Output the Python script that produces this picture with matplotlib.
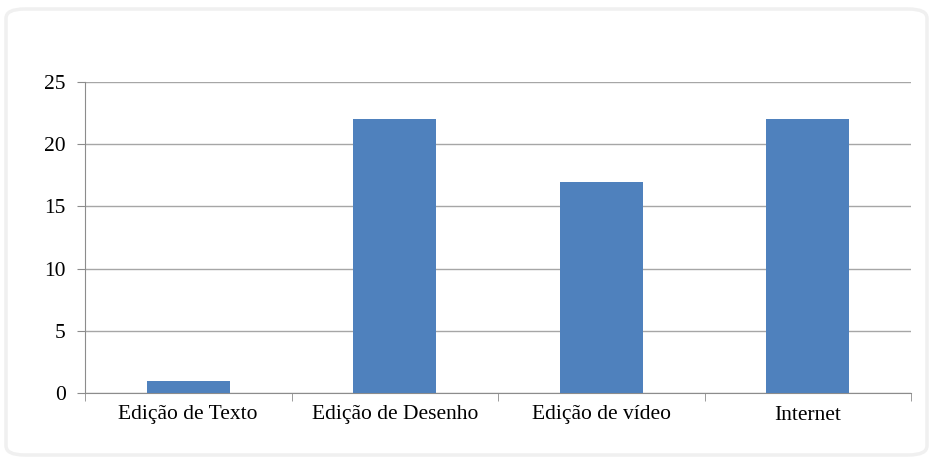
import matplotlib.pyplot as plt
from matplotlib.patches import FancyBboxPatch
import numpy as np

categories = ["Edição de Texto", "Edição de Desenho", "Edição de vídeo", "Internet"]
values = [1, 22, 17, 22]
yticks = [0, 5, 10, 15, 20, 25]

plt.rcParams["font.family"] = ["Liberation Serif", "DejaVu Serif"]

fig = plt.figure(figsize=(9.33, 4.63), dpi=100)
ax = fig.add_axes([85 / 933, 1 - 393 / 463, 826 / 933, 311 / 463])

# faint rounded frame around the chart
frame = FancyBboxPatch((6 / 933, 8 / 463), 921 / 933, 446 / 463,
                       boxstyle="round,pad=0,rounding_size=0.02",
                       transform=fig.transFigure, fill=False,
                       edgecolor="#f0f0f0", linewidth=2.5, zorder=0)
fig.patches.append(frame)

x = np.arange(len(categories))
ax.bar(x, values, width=0.4, color="#4F81BD", zorder=3)

ax.set_xlim(-0.5, len(categories) - 0.5)
ax.set_ylim(0, 25)
ax.set_yticks(yticks)
ax.yaxis.grid(True, color="#a6a6a6", linewidth=1)
ax.set_axisbelow(True)

ax.set_xticks(x)
ax.set_xticklabels(categories)
ax.set_xticks(np.arange(len(categories) + 1) - 0.5, minor=True)
ax.tick_params(axis="x", which="major", length=0, pad=9, labelsize=15.5)
ax.tick_params(axis="x", which="minor", length=6, color="#8c8c8c")
ax.tick_params(axis="y", length=6, color="#8c8c8c", pad=8, labelsize=15.5)

for s in ["top", "right"]:
    ax.spines[s].set_visible(False)
for s in ["left", "bottom"]:
    ax.spines[s].set_color("#8c8c8c")

fig.savefig("out.png", dpi=100)
